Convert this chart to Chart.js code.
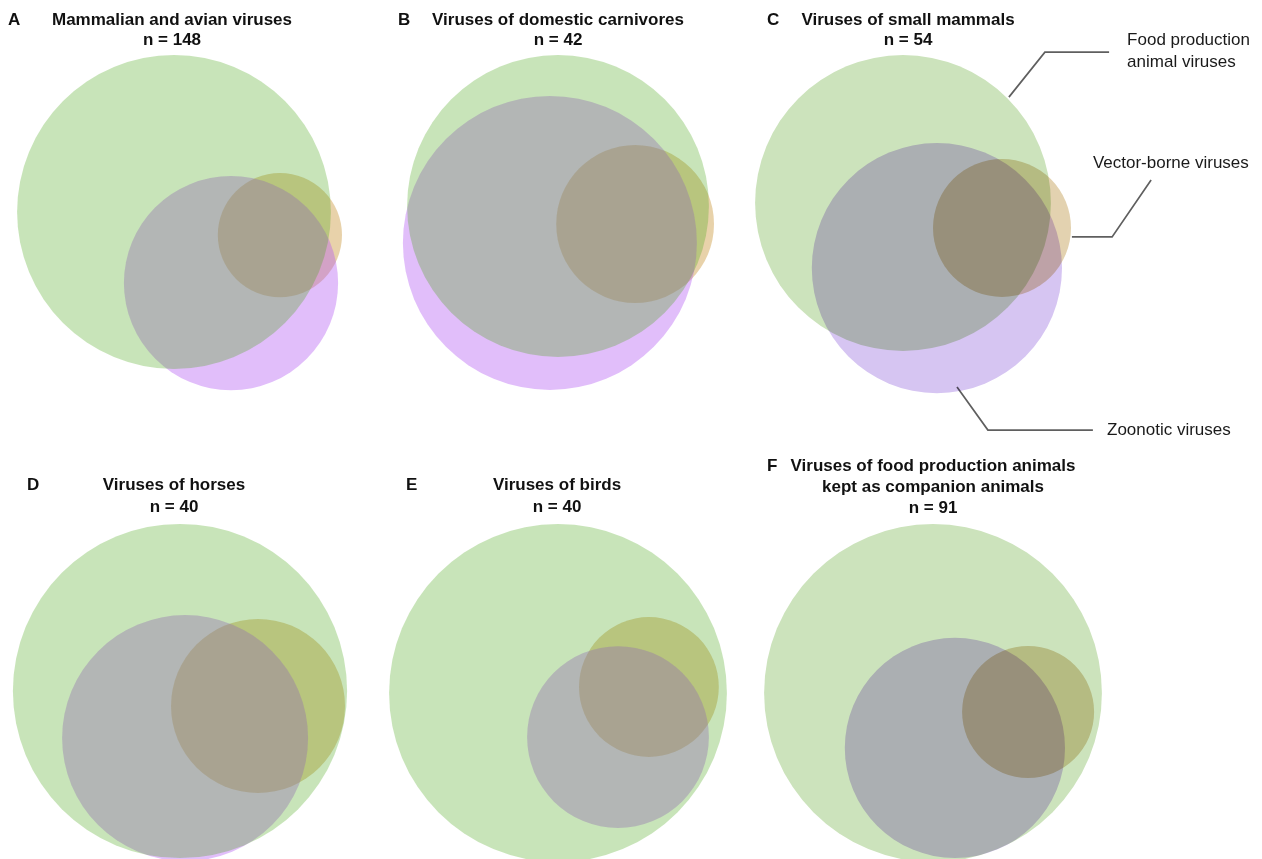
<!DOCTYPE html>
<html>
<head>
<meta charset="utf-8">
<script src="https://cdn.jsdelivr.net/npm/chart.js@4.4.0/dist/chart.umd.min.js"></script>
<style>
  html, body { margin: 0; padding: 0; background: #fff; }
  body { width: 1262px; height: 859px; overflow: hidden; position: relative; }
  canvas { position: absolute; }
</style>
</head>
<body>
<script>
// ---- data -----------------------------------------------------------------
const panelLetters = ['A', 'B', 'C', 'D', 'E', 'F'];
const panelTitles = [
  ['Mammalian and avian viruses'],
  ['Viruses of domestic carnivores'],
  ['Viruses of small mammals'],
  ['Viruses of horses'],
  ['Viruses of birds'],
  ['Viruses of food production animals', 'kept as companion animals']
];
const panelCounts = [148, 42, 54, 40, 40, 91];
const setNames = ['Food production animal viruses', 'Zoonotic viruses', 'Vector-borne viruses'];

// Circles in plot units; the food-production circle sits at the origin of each panel.
const foodR     = [52.3, 50.3, 49.3, 55.7, 56.3, 56.3];
const zoonoticX = [19.0, -2.7, 11.3, 1.7, 20.0, 7.3];
const zoonoticY = [-23.7, -12.3, -21.7, -15.7, -14.7, -18.3];
const zoonoticR = [35.7, 49.0, 41.7, 41.0, 30.3, 36.7];
const vectorX   = [35.3, 25.7, 33.0, 26.0, 30.3, 31.7];
const vectorY   = [-7.7, -6.0, -8.3, -5.0, 2.0, -6.3];
const vectorR   = [20.7, 26.3, 23.0, 29.0, 23.3, 22.0];

// ---- layout & style ---------------------------------------------------------
const UNIT = 3; // pixels per plot unit
const FONT = "'Liberation Sans', Arial, Helvetica, sans-serif";

// translucent fills stacked vector (bottom) -> zoonotic -> food (top)
const palettes = {
  warm: { blend: 'source-over', food: 'rgba(72,165,22,0.3)', zoonotic: 'rgba(180,93,242,0.4)', vector: 'rgba(209,165,85,0.5)' },
  cool: { blend: 'multiply', food: '#CCE3BC', zoonotic: '#D6C5F2', vector: '#E3D2B0' }
};

const row1Head = { title: { top: 10, bottom: 0 }, sub: { top: 0, bottom: 4.2 }, lh: 1.2, head: 55 };
const row2Head = { title: { top: 19.8, bottom: 0 }, sub: { top: 1.6, bottom: 2.8 }, lh: 1.2, head: 65 };
const row2HeadTwo = { title: { top: 0.4, bottom: 0 }, sub: { top: 0, bottom: 1.7 }, lh: 1.25, head: 65 };

const panels = [
  { left: 0,   top: 0,   width: 344, height: 400, padR: 0,   ox: 174, oy: 212, letterX: 8,  letterY: 20, h: row1Head, pal: 'warm' },
  { left: 396, top: 0,   width: 324, height: 400, padR: 0,   ox: 558, oy: 206, letterX: 2,  letterY: 20, h: row1Head, pal: 'warm' },
  { left: 740, top: 0,   width: 522, height: 448, padR: 186, ox: 903, oy: 203, letterX: 27, letterY: 20, h: row1Head, pal: 'cool' },
  { left: 0,   top: 455, width: 348, height: 404, padR: 0,   ox: 180, oy: 691, letterX: 27, letterY: 30, h: row2Head, pal: 'warm' },
  { left: 386, top: 455, width: 342, height: 404, padR: 0,   ox: 558, oy: 693, letterX: 20, letterY: 30, h: row2Head, pal: 'warm' },
  { left: 740, top: 455, width: 386, height: 404, padR: 0,   ox: 933, oy: 693, letterX: 27, letterY: 11, h: row2HeadTwo, pal: 'cool' }
];

// Leader lines (label end first) and set labels for panel C, in plot units
const leaders = [
  { pts: [[68.7, 50.3], [47.3, 50.3], [35.3, 35.3]], lines: ['Food production', 'animal viruses'], lx: 74.7, ly: 50.5 },
  { pts: [[82.7, 7.7], [69.7, -11.3], [56.3, -11.3]], lines: [setNames[2]], lx: 63.3, ly: 13.3 },
  { pts: [[63.3, -75.7], [28.3, -75.7], [18.0, -61.3]], lines: [setNames[1]], lx: 68.0, ly: -75.7 }
];

// ---- plugins ----------------------------------------------------------------
const blendMode = {
  id: 'blendMode',
  beforeDatasetsDraw(chart, args, opts) { chart.ctx.save(); chart.ctx.globalCompositeOperation = opts.mode || 'source-over'; },
  afterDatasetsDraw(chart) { chart.ctx.restore(); }
};

const panelLetter = {
  id: 'panelLetter',
  afterDraw(chart, args, opts) {
    const ctx = chart.ctx;
    ctx.save();
    ctx.font = 'bold 17px ' + FONT;
    ctx.fillStyle = '#111';
    ctx.textAlign = 'left';
    ctx.textBaseline = 'middle';
    ctx.fillText(opts.text, opts.x, opts.y);
    ctx.restore();
  }
};

const setLabels = {
  id: 'setLabels',
  afterDraw(chart, args, opts) {
    if (!opts.items) return;
    const ctx = chart.ctx, sx = chart.scales.x, sy = chart.scales.y;
    ctx.save();
    ctx.font = '17px ' + FONT;
    ctx.fillStyle = '#1a1a1a';
    ctx.textAlign = 'left';
    ctx.textBaseline = 'middle';
    opts.items.forEach(it => {
      const x = sx.getPixelForValue(it.lx);
      const yc = sy.getPixelForValue(it.ly);
      const lh = 22;
      const y0 = yc - (it.lines.length - 1) * lh / 2;
      it.lines.forEach((t, i) => ctx.fillText(t, x, y0 + i * lh));
    });
    ctx.restore();
  }
};

// ---- charts -----------------------------------------------------------------
// radius given in plot units, converted to pixels through the x scale
function pxRadius(ctx) {
  const s = ctx.chart.scales.x;
  if (!ctx.raw || !s) return 0;
  return Math.abs(s.getPixelForValue(ctx.raw.size) - s.getPixelForValue(0));
}

panels.forEach((p, i) => {
  const canvas = document.createElement('canvas');
  canvas.width = p.width;
  canvas.height = p.height;
  canvas.style.left = p.left + 'px';
  canvas.style.top = p.top + 'px';
  canvas.style.width = p.width + 'px';
  canvas.style.height = p.height + 'px';
  document.body.appendChild(canvas);

  const areaLeft = p.left, areaRight = p.left + p.width - p.padR;
  const areaTop = p.top + p.h.head, areaBottom = p.top + p.height;
  const pal = palettes[p.pal];

  // dataset 0 is drawn last (on top)
  const datasets = [
    { label: setNames[0], data: [{ x: 0, y: 0, size: foodR[i] }], color: pal.food },
    { label: setNames[1], data: [{ x: zoonoticX[i], y: zoonoticY[i], size: zoonoticR[i] }], color: pal.zoonotic },
    { label: setNames[2], data: [{ x: vectorX[i], y: vectorY[i], size: vectorR[i] }], color: pal.vector }
  ].map(d => ({
    type: 'scatter',
    label: d.label,
    data: d.data,
    showLine: false,
    pointRadius: pxRadius,
    pointHoverRadius: pxRadius,
    pointBackgroundColor: d.color,
    pointBorderWidth: 0,
    pointBorderColor: 'rgba(0,0,0,0)',
    clip: false
  }));

  let labelItems = null;
  if (panelLetters[i] === 'C') {
    leaders.forEach(l => {
      datasets.unshift({
        type: 'scatter',
        showLine: true,
        data: l.pts.map(q => ({ x: q[0], y: q[1] })),
        borderColor: '#5f5f5f', borderWidth: 1.7, pointRadius: 0, fill: false,
        tension: 0, clip: false
      });
    });
    labelItems = leaders;
  }

  new Chart(canvas, {
    type: 'scatter',
    data: { datasets },
    options: {
      responsive: false,
      animation: false,
      events: [],
      layout: { padding: { left: 0, right: p.padR, top: 0, bottom: 0 } },
      scales: {
        x: { type: 'linear', display: false, min: (areaLeft - p.ox) / UNIT, max: (areaRight - p.ox) / UNIT },
        y: { type: 'linear', display: false, min: (p.oy - areaBottom) / UNIT, max: (p.oy - areaTop) / UNIT }
      },
      plugins: {
        legend: { display: false },
        tooltip: { enabled: false },
        title: {
          display: true,
          text: panelTitles[i],
          color: '#111',
          font: { family: FONT, size: 17, weight: 'bold', lineHeight: p.h.lh },
          padding: p.h.title
        },
        subtitle: {
          display: true,
          text: 'n = ' + panelCounts[i],
          color: '#111',
          font: { family: FONT, size: 17, weight: 'bold', lineHeight: 1.2 },
          padding: p.h.sub
        },
        blendMode: { mode: pal.blend },
        panelLetter: { text: panelLetters[i], x: p.letterX, y: p.letterY },
        setLabels: { items: labelItems }
      }
    },
    plugins: [blendMode, panelLetter, setLabels]
  });
});
</script>
</body>
</html>
